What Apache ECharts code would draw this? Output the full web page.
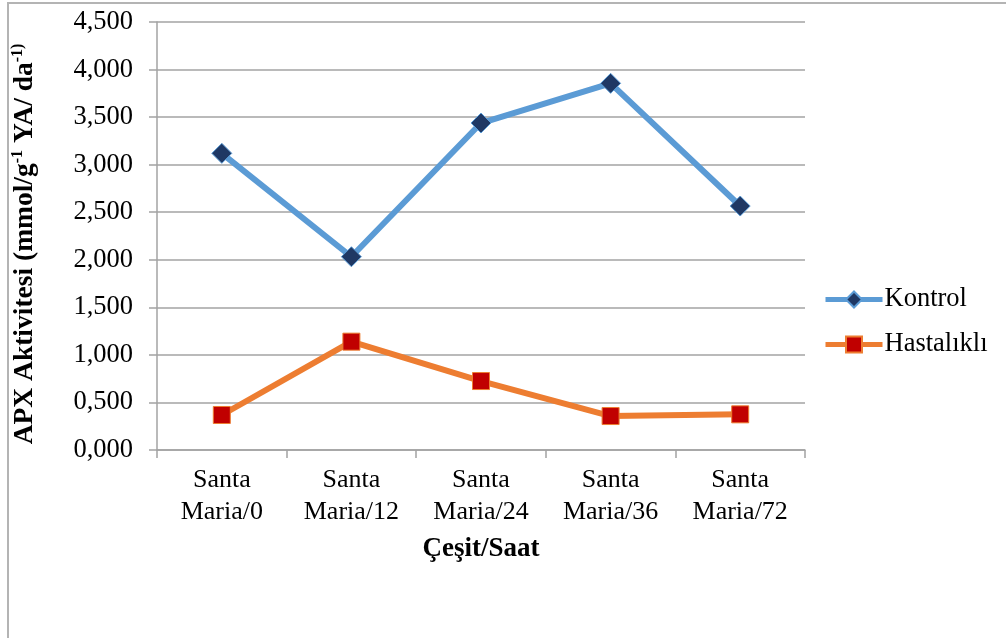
<!DOCTYPE html>
<html>
<head>
<meta charset="utf-8">
<script src="https://cdn.jsdelivr.net/npm/echarts@6/dist/echarts.min.js"></script>
<style>
  html, body { margin: 0; padding: 0; background: #fff; }
  #main { width: 1006px; height: 638px; }
</style>
</head>
<body>
<div id="main"></div>
<script>
const categories = ['Santa\nMaria/0', 'Santa\nMaria/12', 'Santa\nMaria/24', 'Santa\nMaria/36', 'Santa\nMaria/72'];
const kontrol = [3.119, 2.032, 3.438, 3.855, 2.565];
const hastalikli = [0.368, 1.139, 0.725, 0.357, 0.375];

const serif = '"Liberation Serif", "Times New Roman", serif';
const gridGray = '#a3a3a3';

let myChart = echarts.init(document.getElementById('main'));

let option = {
  backgroundColor: '#fff',
  textStyle: { fontFamily: serif, color: '#000' },
  animation: false,
  graphic: [
    {
      type: 'rect',
      shape: { x: 8, y: 3, width: 1100, height: 700 },
      style: { fill: null, stroke: '#b4b4b4', lineWidth: 2 },
      silent: true
    }
  ],
  grid: { left: 157, right: 201, top: 22, bottom: 188 },
  legend: {
    orient: 'vertical',
    left: 823,
    top: 286,
    padding: 0,
    itemWidth: 57,
    itemHeight: 20,
    itemGap: 18,
    lineStyle: { width: 5 },
    textStyle: { fontFamily: serif, fontSize: 26.5, color: '#000', padding: [0, 0, 0, -3] },
    data: ['Kontrol', 'Hastalıklı']
  },
  xAxis: {
    type: 'category',
    data: categories,
    boundaryGap: true,
    name: 'Çeşit/Saat',
    nameLocation: 'middle',
    nameGap: 86,
    nameTextStyle: { fontFamily: serif, fontSize: 27, fontWeight: 'bold', color: '#000' },
    axisLine: { show: true, lineStyle: { color: gridGray, width: 1.5 } },
    axisTick: { show: true, length: 8, alignWithLabel: false, lineStyle: { color: gridGray, width: 1.5 } },
    axisLabel: { fontFamily: serif, fontSize: 26, lineHeight: 32, color: '#000', margin: 14, interval: 0 }
  },
  yAxis: {
    type: 'value',
    min: 0,
    max: 4.5,
    interval: 0.5,
    name: '{b|APX Aktivitesi (mmol/g}{s|-1}{b| YA/ da}{s|-1)}',
    nameLocation: 'middle',
    nameRotate: 90,
    nameGap: 117,
    nameTextStyle: {
      padding: [0, 16, 0, 0],
      rich: {
        b: { fontFamily: serif, fontSize: 27.5, fontWeight: 'bold', color: '#000', lineHeight: 30 },
        s: { fontFamily: serif, fontSize: 16, fontWeight: 'bold', color: '#000', verticalAlign: 'top', lineHeight: 30 }
      }
    },
    axisLine: { show: true, lineStyle: { color: gridGray, width: 1.5 } },
    axisTick: { show: true, length: 8, lineStyle: { color: gridGray, width: 1.5 } },
    splitLine: { show: true, lineStyle: { color: gridGray, width: 1.5 } },
    axisLabel: {
      fontFamily: serif,
      fontSize: 26.5,
      color: '#000',
      margin: 24,
      formatter: function (value) {
        return value.toFixed(3).replace('.', ',');
      }
    }
  },
  series: [
    {
      name: 'Kontrol',
      type: 'line',
      data: kontrol,
      symbol: 'diamond',
      symbolSize: 20,
      lineStyle: { color: '#5b9bd5', width: 6 },
      itemStyle: { color: '#1f3864', borderColor: '#5b9bd5', borderWidth: 1 }
    },
    {
      name: 'Hastalıklı',
      type: 'line',
      data: hastalikli,
      symbol: 'rect',
      symbolSize: 17,
      lineStyle: { color: '#ed7d31', width: 6 },
      itemStyle: { color: '#c00000', borderColor: '#ed7d31', borderWidth: 1 }
    }
  ]
};

option && myChart.setOption(option);
</script>
</body>
</html>
